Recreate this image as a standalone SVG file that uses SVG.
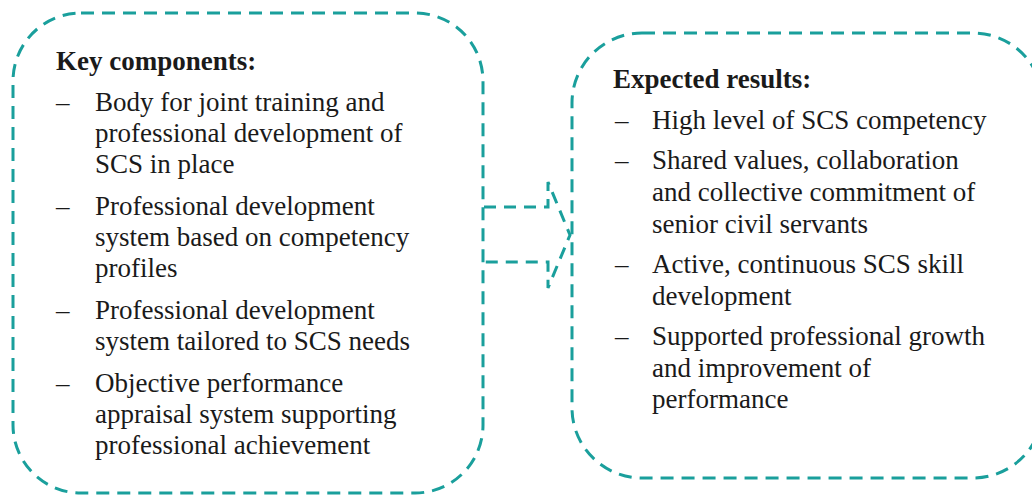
<svg xmlns="http://www.w3.org/2000/svg" width="1032" height="496" viewBox="0 0 1032 496">
<style>
.box{fill:none;stroke:#1a9f9c;stroke-width:3;stroke-dasharray:13 8}
.arr{fill:none;stroke:#1a9f9c;stroke-width:3;stroke-dasharray:12 8}
text{font-family:"Liberation Serif","Times New Roman",serif;font-size:27px;fill:#1a1a1a}
.h{font-weight:bold}
</style>
<rect width="1032" height="496" fill="#ffffff"/>
<g id="connectors">
<path class="arr" d="M484,207 L548,207 L548,182 L570,235 L548,288 L548,262 L484,262"/>
</g>
<g id="key-components">
<rect class="box" x="13" y="13" width="470" height="480" rx="68" ry="68"/>
<text class="h" x="56" y="70">Key components:</text>
<text x="56" y="111">–</text><text x="95" y="111">Body for joint training and</text>
<text x="95" y="142">professional development of</text>
<text x="95" y="173">SCS in place</text>
<text x="56" y="215">–</text><text x="95" y="215">Professional development</text>
<text x="95" y="246">system based on competency</text>
<text x="95" y="277">profiles</text>
<text x="56" y="319">–</text><text x="95" y="319">Professional development</text>
<text x="95" y="350">system tailored to SCS needs</text>
<text x="56" y="392">–</text><text x="95" y="392">Objective performance</text>
<text x="95" y="423">appraisal system supporting</text>
<text x="95" y="454">professional achievement</text>
</g>
<g id="expected-results">
<rect class="box" x="572" y="33" width="471" height="445" rx="70" ry="70"/>
<text class="h" x="613" y="88">Expected results:</text>
<text x="615" y="129">–</text><text x="652" y="129">High level of SCS competency</text>
<text x="615" y="169">–</text><text x="652" y="169">Shared values, collaboration</text>
<text x="652" y="201">and collective commitment of</text>
<text x="652" y="233">senior civil servants</text>
<text x="615" y="273">–</text><text x="652" y="273">Active, continuous SCS skill</text>
<text x="652" y="305">development</text>
<text x="615" y="345">–</text><text x="652" y="345">Supported professional growth</text>
<text x="652" y="377">and improvement of</text>
<text x="652" y="408">performance</text>
</g>
</svg>
